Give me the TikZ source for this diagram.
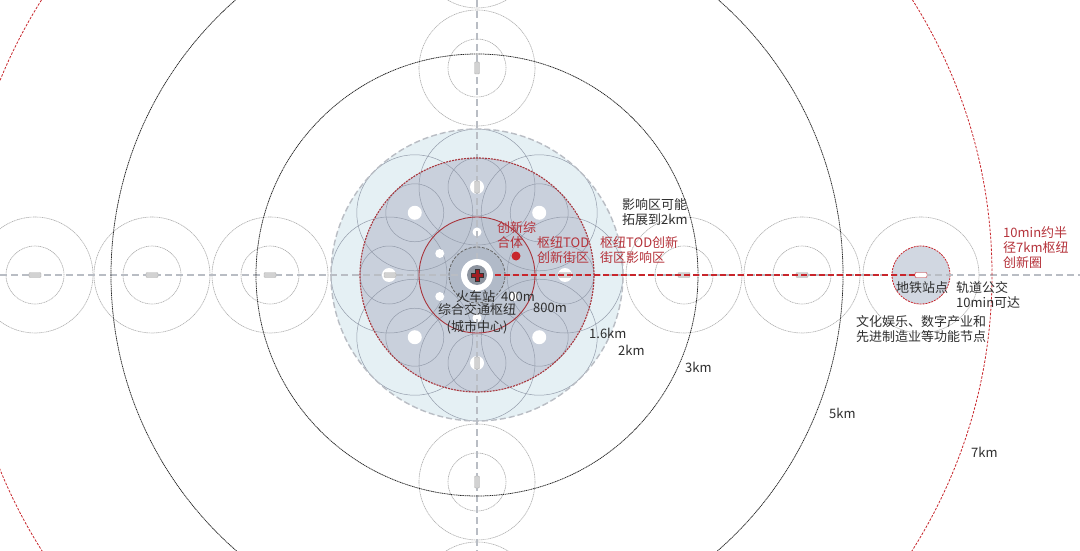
\documentclass[tikz,border=0pt]{standalone}
\usepackage{fontspec}
\setmainfont{Noto Sans CJK SC}
\definecolor{txt}{HTML}{2E2E2E}
\definecolor{hubred}{HTML}{B5323A}
\definecolor{ringred}{HTML}{A8353C}
\definecolor{linered}{HTML}{C8262C}
\definecolor{paleblue}{HTML}{E5F0F4}
\definecolor{zoneA}{HTML}{C9D0DC}
\definecolor{zoneB}{HTML}{BFC7D4}
\definecolor{zoneC}{HTML}{B1BAC8}
\definecolor{axisgray}{HTML}{B9BDC4}
\definecolor{ringgray}{HTML}{ADADAD}
\definecolor{petal}{HTML}{949CAB}
\tikzset{
    satring/.style={ringgray, line width=0.6pt, dash pattern=on 1.2pt off 0.6pt},
    petalring/.style={petal, line width=0.5pt},
    kmring/.style={black!85, line width=0.75pt, dash pattern=on 1.2pt off 0.6pt},
    axisline/.style={axisgray, line width=1.6pt, dash pattern=on 7pt off 4pt},
    stn/.style={draw=gray!60, fill=gray!35, rounded corners=1pt, inner sep=0pt,
        minimum width=12pt, minimum height=5pt},
    stnv/.style={stn, minimum width=5pt, minimum height=12pt},
    lbl/.style={text=txt, inner sep=0pt, align=left, font=\fontsize{13}{15}\selectfont},
    redlbl/.style={lbl, text=hubred},
}
\begin{document}
\begin{tikzpicture}[x=1pt, y=-1pt]
        \useasboundingbox[fill=white] (0,0) rectangle (1080,551);
        \coordinate (hub) at (477,275);
        \coordinate (metro) at (921,275);
        \coordinate (axW) at (0,275);
        \coordinate (axE) at (1080,275);
        \coordinate (axN) at (477,0);
        \coordinate (axS) at (477,551);

        \fill[paleblue] (hub) circle (146pt);
        \fill[zoneA] (hub) circle (117pt);
        \fill[zoneB] (hub) circle (58pt);
        \fill[zoneC] (hub) circle (28pt);
        \foreach \a in {0,45,...,315}
            \draw[petalring] (hub) ++(\a:88pt) circle (29pt) (hub) ++(\a:88pt) circle (58pt);
        \foreach \a in {0,45,...,315}
            \fill[white] (hub) ++(\a:88pt) circle (7pt);
        \foreach \a in {90,150,210,270,330}
            \fill[white] (hub) ++(\a:43pt) circle (4.5pt);

        \foreach \x in {35,152,270,684,802}
            \draw[satring] (\x,275) circle (29pt) (\x,275) circle (58pt);
        \foreach \y in {-50,68,482,600}
            \draw[satring] (477,\y) circle (29pt) (477,\y) circle (58pt);
        \draw[satring] (metro) circle (58pt);
        \filldraw[fill=zoneA!85, draw=linered, line width=0.8pt, dash pattern=on 2pt off 1pt] (metro) circle (29pt);

        \draw[axisline] (axW) -- (axE);
        \draw[axisline] (axN) -- (axS);

        \draw[kmring] (hub) circle (221pt);
        \draw[kmring] (hub) circle (366pt);
        \draw[linered, line width=0.8pt, dash pattern=on 2.5pt off 1.5pt] (hub) circle (515pt);
        \draw[axisgray, line width=1.4pt, dash pattern=on 6pt off 3pt] (hub) circle (146pt);
        \draw[ringred, line width=1.1pt, dash pattern=on 2pt off 1pt] (hub) circle (117pt);
        \draw[ringred, line width=0.9pt] (hub) circle (58pt);
        \draw[black!60, line width=0.8pt, dash pattern=on 3pt off 1.5pt] (hub) circle (28pt);

        \foreach \x [count=\i] in {35,152,270,390,565,684,802}
            \node[stn] (sh\i) at (\x,275) {};
        \foreach \y [count=\i] in {68,187,363,482}
            \node[stnv] (sv\i) at (477,\y) {};
        \node[stn, draw=linered, fill=white] (metrobox) at (metro) {};
        \draw[linered, line width=1.6pt, dash pattern=on 6pt off 3pt] (hub) -- (metrobox.west);

        \fill[white] (hub) circle (16pt);
        \fill[zoneC!80!black] (hub) circle (10pt);
        \filldraw[fill=linered!80!black, draw=black!80, line width=0.6pt]
            (hub) ++(-2pt,6pt) -- ++(4pt,0) -- ++(0,-4pt) -- ++(4pt,0) -- ++(0,-4pt) -- ++(-4pt,0)
            -- ++(0,-4pt) -- ++(-4pt,0) -- ++(0,4pt) -- ++(-4pt,0) -- ++(0,4pt) -- ++(4pt,0) -- cycle;
        \fill[linered] (516,256) circle (4.5pt);

        \node[lbl, anchor=north west] (infl) at (622,198.5) {影响区可能\\拓展到2km};
        \node[redlbl, anchor=north west] (ring7) at (1003,226.5) {10min约半\\径7km枢纽\\创新圈};
        \node[redlbl, anchor=north west] (complex) at (497,221.5) {创新综\\合体};
        \node[redlbl, anchor=north west] (toda) at (537,236.5) {枢纽TOD\\创新街区};
        \node[redlbl, anchor=north west] (todb) at (600,236.5) {枢纽TOD创新\\街区影响区};
        \node[lbl, anchor=west] (station) at (456,297) {火车站\hspace{6pt}400m};
        \node[lbl, align=center, anchor=north, font=\fontsize{13}{17}\selectfont] (hubtxt) at (477,303) {综合交通枢纽\\(城市中心)};
        \node[lbl, anchor=west] (r800) at (533,308) {800m};
        \node[lbl, anchor=west] (r1600) at (589,333) {1.6km};
        \node[lbl, anchor=west] (r2k) at (618,350) {2km};
        \node[lbl, anchor=west] (r3k) at (685,367) {3km};
        \node[lbl, anchor=west] (r5k) at (829,413) {5km};
        \node[lbl, anchor=west] (r7k) at (971,452) {7km};
        \node[lbl, anchor=west] (metrotxt) at (896,288) {地铁站点};
        \node[lbl, anchor=north west] (rail) at (956,281.5) {轨道公交\\10min可达};
        \node[lbl, anchor=north west] (func) at (856,315.5) {文化娱乐、数字产业和\\先进制造业等功能节点};
\end{tikzpicture}
\end{document}
